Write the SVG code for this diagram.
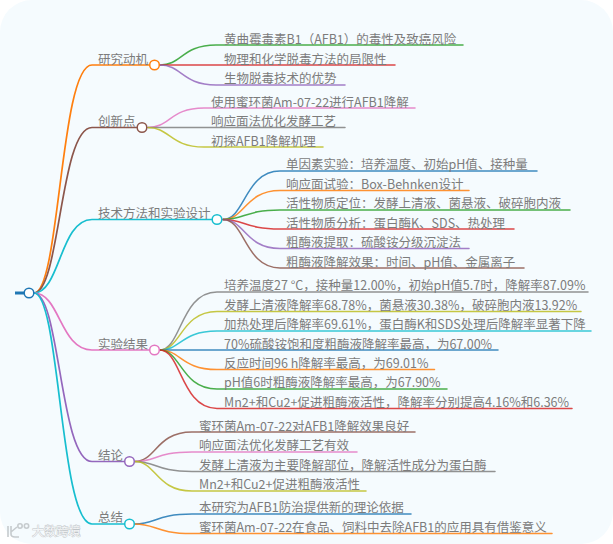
<svg xmlns="http://www.w3.org/2000/svg" width="613" height="544" viewBox="0 0 613 544">
<style>
text{font-family:"Noto Sans CJK SC","Noto Sans",sans-serif;font-size:12.5px;fill:#7c7c7c}
.l{fill:none;stroke-width:1.5;stroke-linecap:round}
.m{stroke-width:1.7}
.e{stroke-opacity:.85}
circle{fill:#fff;stroke-width:1.5}
#watermark text{font-size:12.2px;fill:#f4f6f7;stroke:#bfc4c7;stroke-width:.8;paint-order:stroke}
#watermark path,#watermark circle{fill:none;stroke:#c6cbce;stroke-width:1.600}
</style>
<rect width="613" height="544" fill="#fff"/>
<rect x="0" y="0" width="613" height="544" rx="32" fill="#f5fbfe"/>
<g id="connectors">
<path d="M15 293H24" fill="none" stroke="#1f77b4" stroke-width="3"/>
<path class="l m" d="M34 293C60 293 60 65 92 65H149" stroke="#ff7f0e"/>
<path class="l m" d="M34 293C60 293 60 127.500 92 127.500H137" stroke="#8c564b"/>
<path class="l m" d="M34 293C60 293 60 219.500 92 219.500H212" stroke="#17becf"/>
<path class="l m" d="M34 293C60 293 60 350 92 350H149" stroke="#e377c2"/>
<path class="l m" d="M34 293C60 293 60 461.500 92 461.500H124" stroke="#9467bd"/>
<path class="l m" d="M34 293C60 293 60 524 92 524H124" stroke="#17becf"/>
<g class="e">
<path class="l" d="M160 65C182 65 182 45 216 45H463" stroke="#2ca02c"/>
<path class="l" d="M160 65H395" stroke="#d62728"/>
<path class="l" d="M160 65C182 65 182 85 216 85H345" stroke="#9467bd"/>
<path class="l" d="M148 127.500C170 127.500 170 108 204 108H415" stroke="#e377c2"/>
<path class="l" d="M148 127.500H345" stroke="#7f7f7f"/>
<path class="l" d="M148 127.500C170 127.500 170 147 204 147H323" stroke="#bcbd22"/>
<path class="l" d="M223 219.500C245 219.500 245 171 280 171H537" stroke="#1f77b4"/>
<path class="l" d="M223 219.500C245 219.500 245 190.500 280 190.500H469" stroke="#ff7f0e"/>
<path class="l" d="M223 219.500C245 219.500 245 210 280 210H570" stroke="#2ca02c"/>
<path class="l" d="M223 219.500C245 219.500 245 229 280 229H514" stroke="#d62728"/>
<path class="l" d="M223 219.500C245 219.500 245 248.500 280 248.500H469" stroke="#9467bd"/>
<path class="l" d="M223 219.500C245 219.500 245 268 280 268H524" stroke="#8c564b"/>
<path class="l" d="M160 350C181 350 181 292 217 292H588" stroke="#7f7f7f"/>
<path class="l" d="M160 350C181 350 181 311.500 217 311.500H581" stroke="#bcbd22"/>
<path class="l" d="M160 350C181 350 181 331 217 331H591" stroke="#17becf"/>
<path class="l" d="M160 350H498" stroke="#1f77b4"/>
<path class="l" d="M160 350C181 350 181 369.500 217 369.500H434.500" stroke="#ff7f0e"/>
<path class="l" d="M160 350C181 350 181 389 217 389H447" stroke="#2ca02c"/>
<path class="l" d="M160 350C181 350 181 408.500 217 408.500H572" stroke="#d62728"/>
<path class="l" d="M135 461.500C156 461.500 156 432 192 432H415" stroke="#8c564b"/>
<path class="l" d="M135 461.500C156 461.500 156 452 192 452H357" stroke="#e377c2"/>
<path class="l" d="M135 461.500C156 461.500 156 471.500 192 471.500H495" stroke="#7f7f7f"/>
<path class="l" d="M135 461.500C156 461.500 156 491 192 491H366" stroke="#bcbd22"/>
<path class="l" d="M135 524C156 524 156 514 192 514H411" stroke="#1f77b4"/>
<path class="l" d="M135 524C156 524 156 533.500 192 533.500H552" stroke="#ff7f0e"/>
</g>
</g>
<g id="root"><circle cx="29" cy="293" r="4.800" stroke="#1f77b4"/></g>
<g id="n1"><circle cx="154.500" cy="65" r="4.800" stroke="#ff7f0e"/><text x="98" y="63.500">研究动机</text></g>
<g id="n2"><circle cx="142" cy="127.500" r="4.800" stroke="#8c564b"/><text x="98" y="125.500">创新点</text></g>
<g id="n3"><circle cx="217" cy="219.500" r="4.800" stroke="#17becf"/><text x="98" y="217.500">技术方法和实验设计</text></g>
<g id="n4"><circle cx="154.500" cy="350" r="4.800" stroke="#e377c2"/><text x="98" y="348.500">实验结果</text></g>
<g id="n5"><circle cx="129.500" cy="461.500" r="4.800" stroke="#9467bd"/><text x="98" y="459.500">结论</text></g>
<g id="n6"><circle cx="129.500" cy="524" r="4.800" stroke="#17becf"/><text x="98" y="521.500">总结</text></g>
<g id="n1c">
<text x="224" y="43.500">黄曲霉毒素B1（AFB1）的毒性及致癌风险</text>
<text x="224" y="63.500">物理和化学脱毒方法的局限性</text>
<text x="224" y="82.500">生物脱毒技术的优势</text></g>
<g id="n2c">
<text x="211" y="106.500">使用蜜环菌Am-07-22进行AFB1降解</text>
<text x="211" y="125.500">响应面法优化发酵工艺</text>
<text x="211" y="145.500">初探AFB1降解机理</text></g>
<g id="n3c">
<text x="286" y="168.500">单因素实验：培养温度、初始pH值、接种量</text>
<text x="286" y="188.500">响应面试验：Box-Behnken设计</text>
<text x="286" y="207.500">活性物质定位：发酵上清液、菌悬液、破碎胞内液</text>
<text x="286" y="227.500">活性物质分析：蛋白酶K、SDS、热处理</text>
<text x="286" y="246.500">粗酶液提取：硫酸铵分级沉淀法</text>
<text x="286" y="266.500">粗酶液降解效果：时间、pH值、金属离子</text></g>
<g id="n4c">
<text x="224" y="289.500">培养温度27 °C，接种量12.00%，初始pH值5.7时，降解率87.09%</text>
<text x="224" y="309.500">发酵上清液降解率68.78%，菌悬液30.38%，破碎胞内液13.92%</text>
<text x="224" y="328.500">加热处理后降解率69.61%，蛋白酶K和SDS处理后降解率显著下降</text>
<text x="224" y="348.500">70%硫酸铵饱和度粗酶液降解率最高，为67.00%</text>
<text x="224" y="367.500">反应时间96 h降解率最高，为69.01%</text>
<text x="224" y="386.500">pH值6时粗酶液降解率最高，为67.90%</text>
<text x="224" y="406.500">Mn2+和Cu2+促进粗酶液活性，降解率分别提高4.16%和6.36%</text></g>
<g id="n5c">
<text x="199" y="430.500">蜜环菌Am-07-22对AFB1降解效果良好</text>
<text x="199" y="449.500">响应面法优化发酵工艺有效</text>
<text x="199" y="469.500">发酵上清液为主要降解部位，降解活性成分为蛋白酶</text>
<text x="199" y="488.500">Mn2+和Cu2+促进粗酶液活性</text></g>
<g id="n6c">
<text x="199" y="511.500">本研究为AFB1防治提供新的理论依据</text>
<text x="199" y="531.500">蜜环菌Am-07-22在食品、饲料中去除AFB1的应用具有借鉴意义</text></g>
<g id="watermark">
<path d="M8 526V537M11 526V534Q11 537 15 537H19M11 532L17 527"/>
<circle cx="20" cy="526" r="2.200"/><circle cx="26.500" cy="526" r="2.200"/>
<text x="32" y="536">大数跨境</text></g>
</svg>
